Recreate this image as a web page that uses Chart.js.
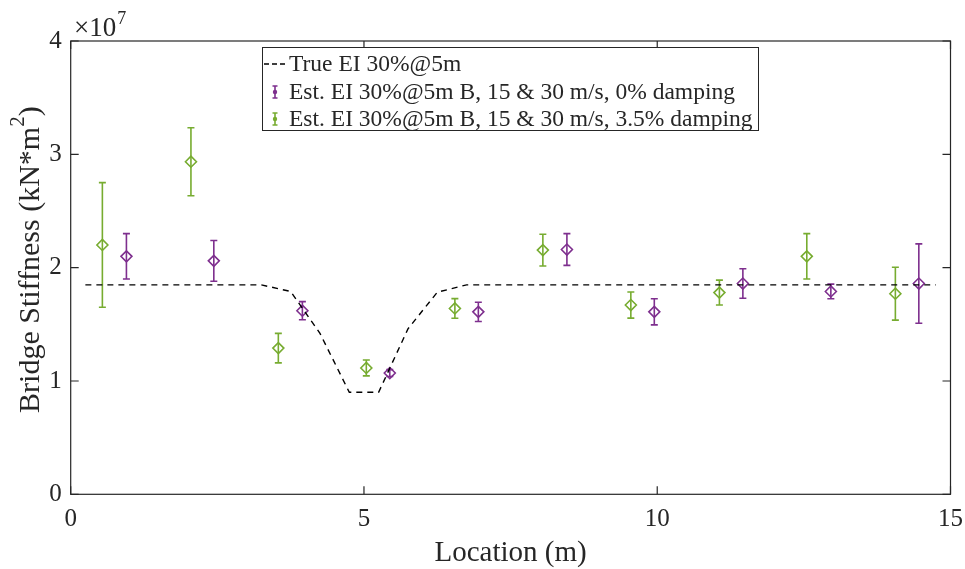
<!DOCTYPE html>
<html>
<head>
<meta charset="utf-8">
<script src="https://cdn.jsdelivr.net/npm/chart.js@4.4.1/dist/chart.umd.min.js"></script>
<style>
  html, body { margin: 0; padding: 0; background: #fff; }
  canvas { display: block; }
</style>
</head>
<body>
<canvas id="ei-chart" width="965" height="569"></canvas>
<script>
// True stiffness profile (damage 30% at 5 m)
var trueLoc = [0.25, 3.25, 3.75, 4.25, 4.75, 5.25, 5.75, 6.25, 6.75, 14.75];
var trueEI = [1.848e7, 1.848e7, 1.79e7, 1.42e7, 0.90e7, 0.90e7, 1.46e7, 1.783e7, 1.848e7, 1.848e7];

// Estimates, 0% damping
var locNoDamp = [0.95, 2.44, 3.95, 5.44, 6.95, 8.46, 9.95, 11.46, 12.96, 14.46];
var eiNoDamp = [2.10e7, 2.06e7, 1.62e7, 1.07e7, 1.61e7, 2.16e7, 1.61e7, 1.86e7, 1.79e7, 1.86e7];
var errNoDamp = [0.20e7, 0.18e7, 0.08e7, 0.03e7, 0.085e7, 0.14e7, 0.115e7, 0.13e7, 0.065e7, 0.35e7];

// Estimates, 3.5% damping
var locDamp = [0.54, 2.05, 3.54, 5.04, 6.55, 8.05, 9.55, 11.06, 12.55, 14.06];
var eiDamp = [2.20e7, 2.935e7, 1.29e7, 1.115e7, 1.64e7, 2.155e7, 1.67e7, 1.78e7, 2.10e7, 1.77e7];
var errDamp = [0.55e7, 0.30e7, 0.13e7, 0.07e7, 0.087e7, 0.14e7, 0.115e7, 0.11e7, 0.20e7, 0.233e7];

var xTicks = [0, 5, 10, 15];
var yTicks = [0, 1e7, 2e7, 3e7, 4e7];

var legendLabels = [
  "True EI 30%@5m",
  "Est. EI 30%@5m B, 15 & 30 m/s, 0% damping",
  "Est. EI 30%@5m B, 15 & 30 m/s, 3.5% damping"
];

var purple = '#7E2F8E';
var green = '#77AC30';
var axisColor = '#262626';
var serif = '"Liberation Serif", "Times New Roman", serif';

function pts(xs, ys) {
  return xs.map(function (x, i) { return { x: x, y: ys[i] }; });
}

// vertical error bars with caps, drawn through the scales
var errorBars = {
  id: 'errorBars',
  beforeDatasetsDraw: function (chart) {
    var ctx = chart.ctx;
    var ys = chart.scales.y;
    chart.data.datasets.forEach(function (ds, i) {
      if (!ds.errors) return;
      var meta = chart.getDatasetMeta(i);
      ctx.save();
      ctx.strokeStyle = ds.borderColor;
      ctx.lineWidth = 1.6;
      meta.data.forEach(function (p, j) {
        var v = ds.data[j].y, e = ds.errors[j];
        var top = ys.getPixelForValue(v + e);
        var bot = ys.getPixelForValue(v - e);
        ctx.beginPath();
        ctx.moveTo(p.x, top); ctx.lineTo(p.x, bot);
        ctx.moveTo(p.x - 3.5, top); ctx.lineTo(p.x + 3.5, top);
        ctx.moveTo(p.x - 3.5, bot); ctx.lineTo(p.x + 3.5, bot);
        ctx.stroke();
      });
      ctx.restore();
    });
  }
};

// box, inward ticks, titles, exponent and legend
var decorations = {
  id: 'decorations',
  afterDraw: function (chart) {
    var ctx = chart.ctx;
    var a = chart.chartArea;
    var xs = chart.scales.x, ys = chart.scales.y;
    ctx.save();
    ctx.strokeStyle = axisColor;
    ctx.lineWidth = 1.2;
    ctx.strokeRect(a.left, a.top, a.right - a.left, a.bottom - a.top);
    ctx.beginPath();
    xTicks.forEach(function (t) {
      var px = xs.getPixelForValue(t);
      ctx.moveTo(px, a.bottom); ctx.lineTo(px, a.bottom - 8);
      ctx.moveTo(px, a.top); ctx.lineTo(px, a.top + 8);
    });
    yTicks.forEach(function (t) {
      var py = ys.getPixelForValue(t);
      ctx.moveTo(a.left, py); ctx.lineTo(a.left + 8, py);
      ctx.moveTo(a.right, py); ctx.lineTo(a.right - 8, py);
    });
    ctx.stroke();

    ctx.fillStyle = axisColor;
    // x title
    ctx.font = '29px ' + serif;
    ctx.textAlign = 'center';
    ctx.textBaseline = 'alphabetic';
    ctx.fillText('Location (m)', (a.left + a.right) / 2, 561);

    // y title with superscript
    ctx.save();
    ctx.translate(39, (a.top + a.bottom) / 2 - 8);
    ctx.rotate(-Math.PI / 2);
    var main = 'Bridge Stiffness (kN*m';
    ctx.font = '30px ' + serif;
    var w1 = ctx.measureText(main).width;
    ctx.font = '21px ' + serif;
    var w2 = ctx.measureText('2').width;
    ctx.font = '30px ' + serif;
    var w3 = ctx.measureText(')').width;
    var x0 = -(w1 + w2 + w3) / 2;
    ctx.textAlign = 'left';
    ctx.fillText(main, x0, 0);
    ctx.font = '21px ' + serif;
    ctx.fillText('2', x0 + w1, -15);
    ctx.font = '30px ' + serif;
    ctx.fillText(')', x0 + w1 + w2, 0);
    ctx.restore();

    // exponent label
    ctx.textAlign = 'left';
    ctx.font = '27px ' + serif;
    ctx.fillText('\u00d710', 74, 36);
    var wx = ctx.measureText('\u00d710').width;
    ctx.font = '18px ' + serif;
    ctx.fillText('7', 74 + wx + 1, 24);

    // legend
    var lx = 262, ly = 47, lw = 496, lh = 83;
    ctx.fillStyle = '#fff';
    ctx.fillRect(lx, ly, lw, lh);
    ctx.strokeStyle = axisColor;
    ctx.lineWidth = 1;
    ctx.strokeRect(lx + 0.5, ly + 0.5, lw, lh);
    var rows = [64, 92, 119];
    ctx.font = '23.5px ' + serif;
    ctx.fillStyle = axisColor;
    ctx.textBaseline = 'middle';
    legendLabels.forEach(function (txt, i) {
      ctx.fillText(txt, 289, rows[i] + 1);
    });
    // dashed line sample
    ctx.strokeStyle = '#000';
    ctx.lineWidth = 1.3;
    ctx.setLineDash([5, 3]);
    ctx.beginPath();
    ctx.moveTo(264, rows[0]); ctx.lineTo(288, rows[0]);
    ctx.stroke();
    ctx.setLineDash([]);
    // error bar samples
    [purple, green].forEach(function (c, i) {
      var cy = rows[i + 1], cx = 275;
      ctx.strokeStyle = c;
      ctx.fillStyle = c;
      ctx.lineWidth = 1.6;
      ctx.beginPath();
      ctx.moveTo(cx, cy - 6); ctx.lineTo(cx, cy + 6);
      ctx.moveTo(cx - 2.5, cy - 6); ctx.lineTo(cx + 2.5, cy - 6);
      ctx.moveTo(cx - 2.5, cy + 6); ctx.lineTo(cx + 2.5, cy + 6);
      ctx.stroke();
      ctx.beginPath();
      ctx.arc(cx, cy, 2.2, 0, Math.PI * 2);
      ctx.fill();
    });
    ctx.restore();
  }
};

new Chart(document.getElementById('ei-chart'), {
  type: 'line',
  data: {
    datasets: [
      {
        label: legendLabels[0],
        data: pts(trueLoc, trueEI),
        borderColor: '#000',
        borderWidth: 1.4,
        borderDash: [6, 5],
        pointRadius: 0,
        fill: false,
        tension: 0
      },
      {
        label: legendLabels[1],
        data: pts(locNoDamp, eiNoDamp),
        errors: errNoDamp,
        showLine: false,
        borderColor: purple,
        backgroundColor: 'rgba(0,0,0,0)',
        pointStyle: 'rectRot',
        pointRadius: 5.5,
        pointBorderWidth: 1.6
      },
      {
        label: legendLabels[2],
        data: pts(locDamp, eiDamp),
        errors: errDamp,
        showLine: false,
        borderColor: green,
        backgroundColor: 'rgba(0,0,0,0)',
        pointStyle: 'rectRot',
        pointRadius: 5.5,
        pointBorderWidth: 1.6
      }
    ]
  },
  options: {
    responsive: false,
    animation: false,
    devicePixelRatio: 1,
    layout: { padding: { left: 0, right: 13, top: 41, bottom: 0 } },
    plugins: {
      legend: { display: false },
      tooltip: { enabled: false }
    },
    scales: {
      x: {
        type: 'linear',
        min: 0,
        max: 15,
        afterBuildTicks: function (s) { s.ticks = xTicks.map(function (v) { return { value: v }; }); },
        afterFit: function (s) { s.height = 74.7; },
        grid: { display: false },
        border: { display: false },
        ticks: {
          color: axisColor,
          font: { family: serif, size: 25 },
          padding: 2,
          maxRotation: 0
        }
      },
      y: {
        type: 'linear',
        min: 0,
        max: 4e7,
        afterBuildTicks: function (s) { s.ticks = yTicks.map(function (v) { return { value: v }; }); },
        afterFit: function (s) { s.width = 70.7; },
        grid: { display: false },
        border: { display: false },
        ticks: {
          color: axisColor,
          font: { family: serif, size: 25 },
          padding: 1,
          callback: function (v) { return v / 1e7; }
        }
      }
    }
  },
  plugins: [errorBars, decorations]
});
</script>
</body>
</html>
